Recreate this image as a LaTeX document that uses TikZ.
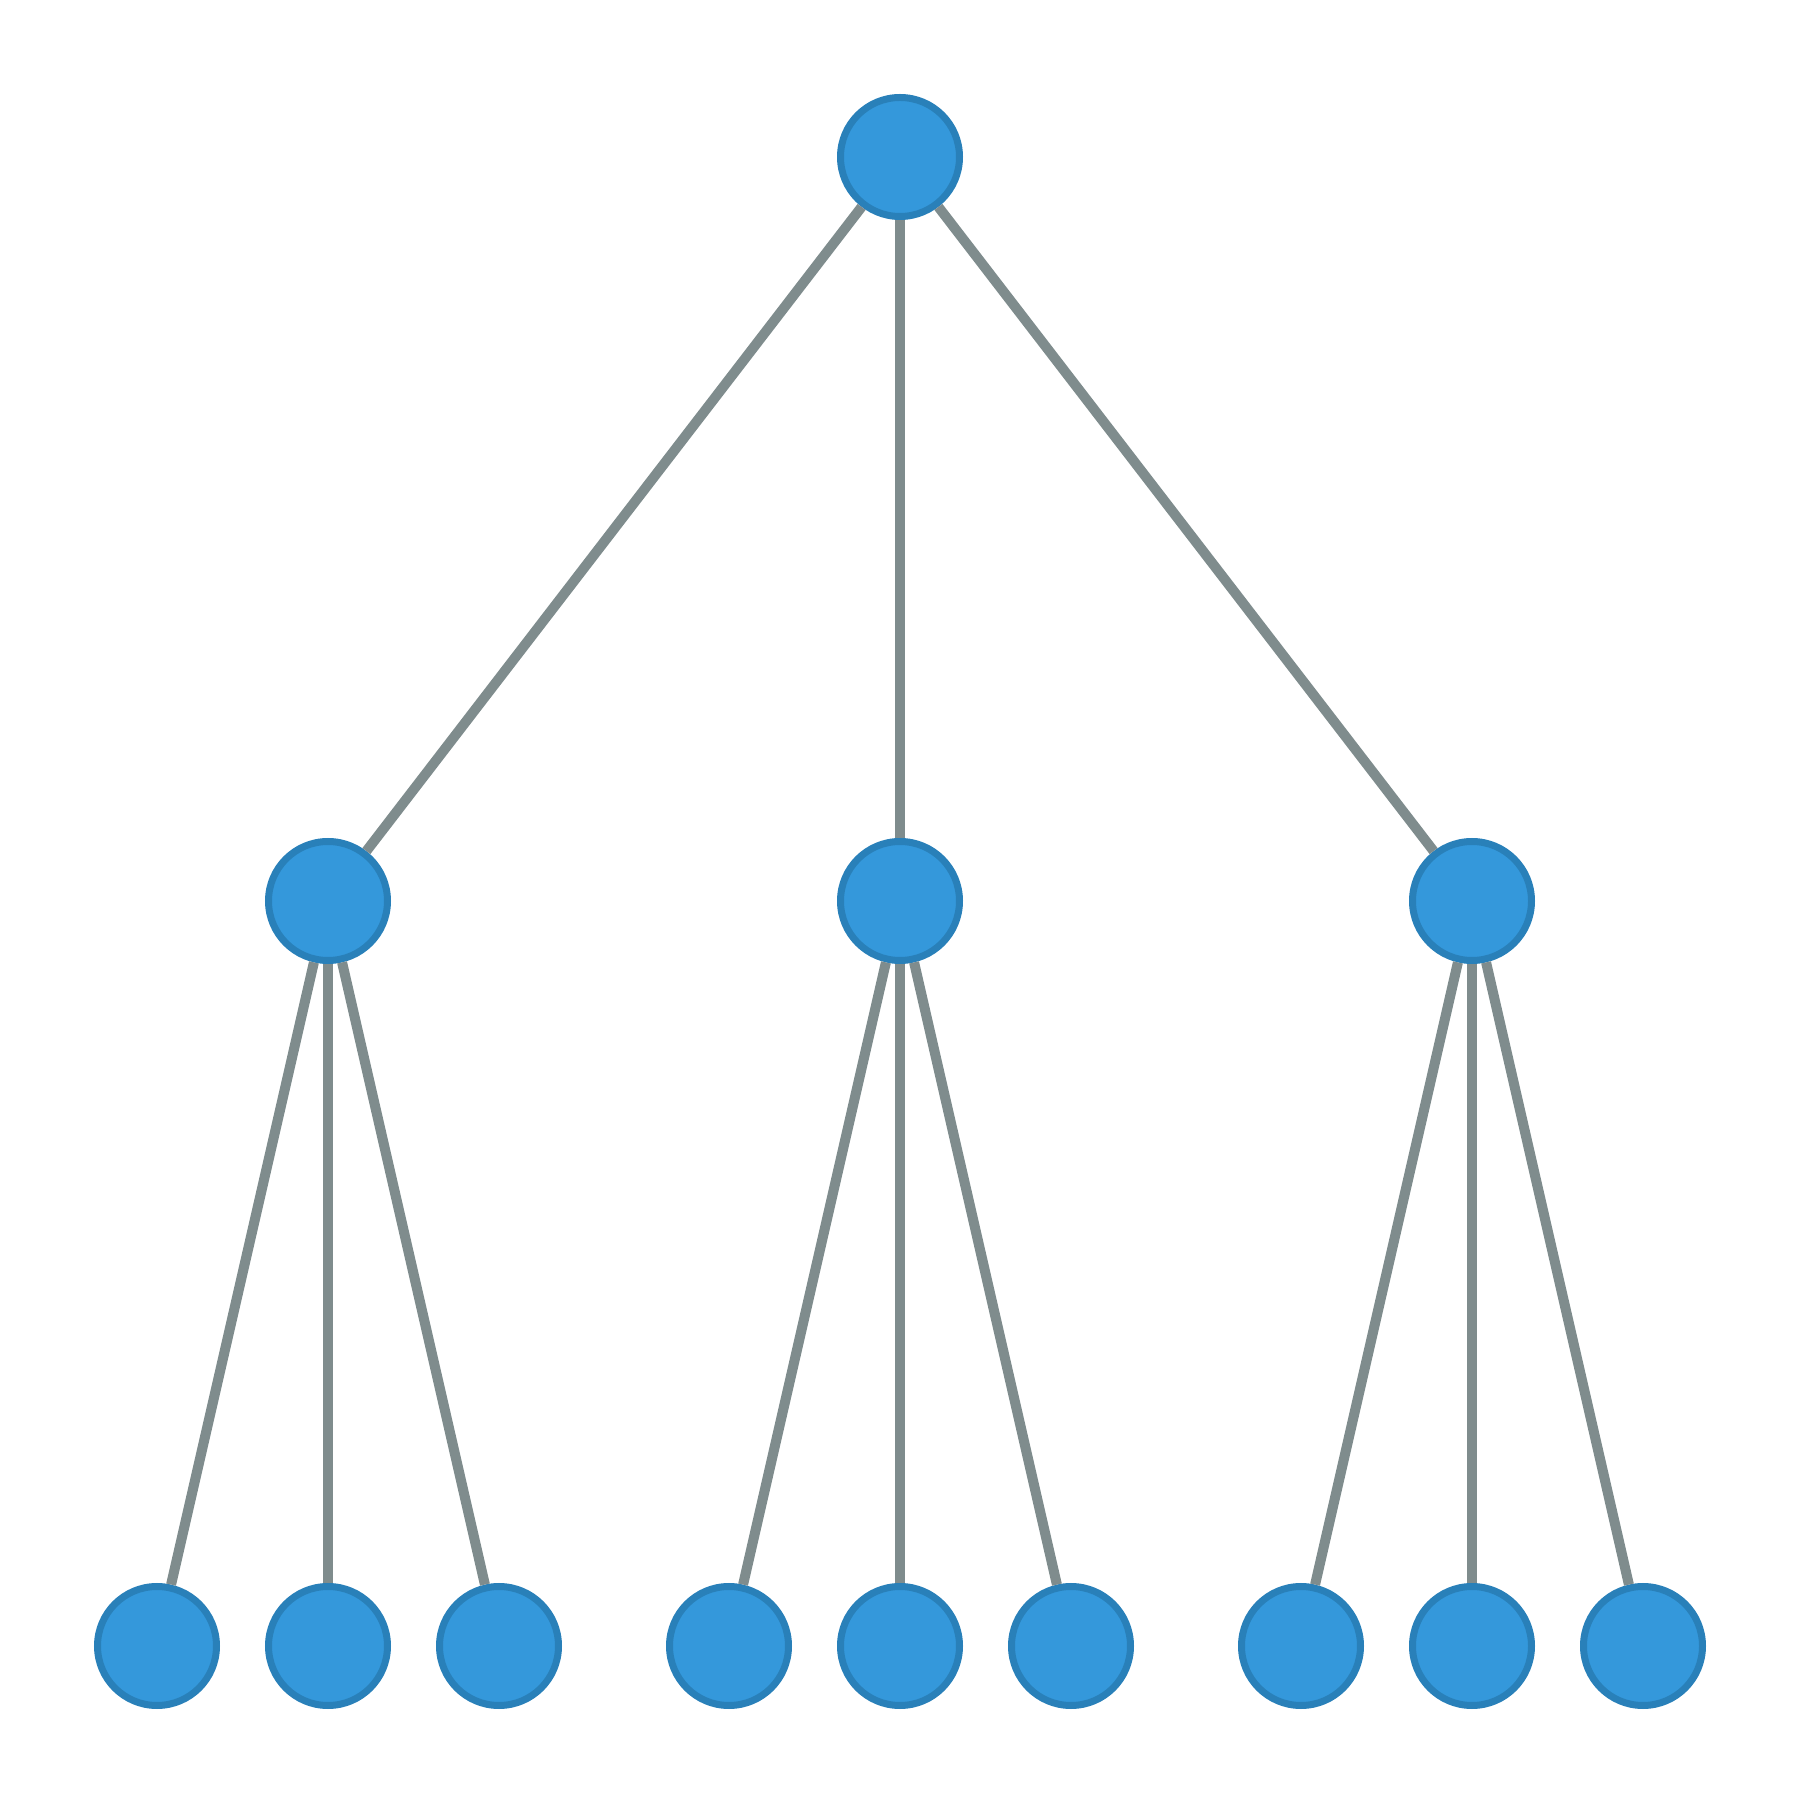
\documentclass[tikz,border=0pt]{standalone}
\usepackage{tikz}
\usetikzlibrary{positioning}

\definecolor{nodefill}{HTML}{3498DB}
\definecolor{nodeline}{HTML}{2980B9}
\definecolor{edgegray}{HTML}{7F8C8D}

\begin{document}
\begin{tikzpicture}[on grid, vertex/.style={circle, draw=nodeline, fill=nodefill, line width=0.07cm, minimum size=1.19cm, inner sep=0pt}, link/.style={draw=edgegray, line width=0.1cm} ]
			\useasboundingbox (0,0) rectangle (18,18);
			\node[vertex]		(R)  at (9,16.43)						{};
			\node[vertex]		(L)  [below left=7.44cm and 5.72cm of R]	{};
			\node[vertex]		(M)  [below=7.44cm of R]				{};
			\node[vertex]		(Q)  [below right=7.44cm and 5.72cm of R]	{};
			
			%Folhas:
			\node[vertex]		(L1) [below left=7.45cm and 1.71cm of L]	{};
			\node[vertex]		(L2) [below=7.45cm of L]				{};
			\node[vertex]		(L3) [below right=7.45cm and 1.71cm of L]	{};
			\node[vertex]		(M1) [below left=7.45cm and 1.71cm of M]	{};
			\node[vertex]		(M2) [below=7.45cm of M]				{};
			\node[vertex]		(M3) [below right=7.45cm and 1.71cm of M]	{};
			\node[vertex]		(Q1) [below left=7.45cm and 1.71cm of Q]	{};
			\node[vertex]		(Q2) [below=7.45cm of Q]				{};
			\node[vertex]		(Q3) [below right=7.45cm and 1.71cm of Q]	{};
			
			%Arestas:
			\path[link]
			(R) edge (L)
			(R) edge (M)
			(R) edge (Q)
			(L) edge (L1)
			(L) edge (L2)
			(L) edge (L3)
			(M) edge (M1)
			(M) edge (M2)
			(M) edge (M3)
			(Q) edge (Q1)
			(Q) edge (Q2)
			(Q) edge (Q3);
		\end{tikzpicture}
\end{document}
